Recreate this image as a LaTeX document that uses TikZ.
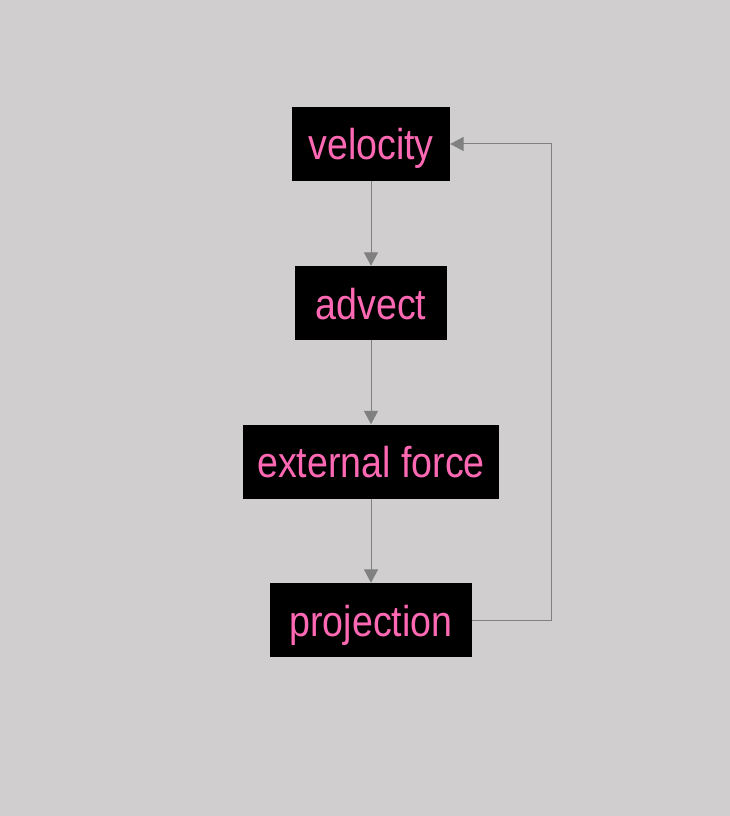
\documentclass[tikz,border=0pt]{standalone}
\usepackage{fontspec}
\usetikzlibrary{arrows.meta}
\newfontfamily\boxfont[FakeStretch=0.87]{Liberation Sans}
\definecolor{bgray}{HTML}{D0CECE}
\definecolor{lgray}{HTML}{808080}
\definecolor{pinktext}{HTML}{FF69B4}
\begin{document}
\begin{tikzpicture}[x=0.75pt,y=-0.75pt,>={Triangle[width=10.5pt,length=10pt]},
  stepbox/.style={fill=black,text=pinktext,inner sep=0pt,minimum height=55.5pt,
    text height=24pt,text depth=0pt,font=\boxfont\fontsize{32.4}{36}\selectfont},
  link/.style={->,draw=lgray,line width=0.75pt}]

\fill[bgray] (0,0) rectangle (730,816);
\useasboundingbox (0,0) rectangle (730,816);

\node[stepbox,minimum width=118.5pt] (velocity) at (371,144) {velocity};
\node[stepbox,minimum width=114pt] (advect) at (371,303) {advect};
\node[stepbox,minimum width=192pt] (force) at (371,461.5) {external force};
\node[stepbox,minimum width=151.5pt] (projection) at (371,620) {projection};

\coordinate (turnlow) at (551,620);
\coordinate (turnhigh) at (551,144);

\draw[link] (velocity) -- (advect);
\draw[link] (advect) -- (force);
\draw[link] (force) -- (projection);

% back to the start
\draw[link] (projection.east) -- (turnlow) -- (turnhigh) -- (velocity.east);

\end{tikzpicture}
\end{document}
